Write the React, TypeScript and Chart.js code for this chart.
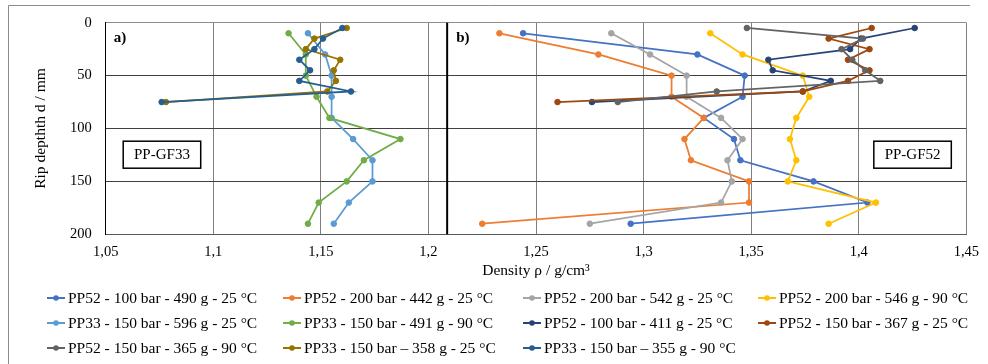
import React, { useEffect, useRef } from 'react';
import { Chart, registerables } from 'chart.js';

Chart.register(...registerables);

// ---- data ----
const depthsA = [10, 30, 50, 70, 90, 110, 130, 150, 170, 190];
const depthsB = [5, 15, 25, 35, 45, 55, 65, 75];

const xTickValues = [1.05, 1.1, 1.15, 1.2, 1.25, 1.3, 1.35, 1.4, 1.45];
const xTickLabels = ['1,05', '1,1', '1,15', '1,2', '1,25', '1,3', '1,35', '1,4', '1,45'];
const yTickValues = [0, 50, 100, 150, 200];
const yTickLabels = ['0', '50', '100', '150', '200'];

const seriesLabels = [
  'PP52 - 100 bar - 490 g - 25 °C',
  'PP52 - 200 bar - 442 g - 25 °C',
  'PP52 - 200 bar - 542 g - 25 °C',
  'PP52 - 200 bar - 546 g - 90 °C',
  'PP33 - 150 bar - 596 g - 25 °C',
  'PP33 - 150 bar - 491 g - 90 °C',
  'PP52 - 100 bar - 411 g - 25 °C',
  'PP52 - 150 bar - 367 g - 25 °C',
  'PP52 - 150 bar - 365 g - 90 °C',
  'PP33 - 150 bar \u2013 358 g - 25 °C',
  'PP33 - 150 bar \u2013 355 g - 90 °C',
];

const seriesColors = [
  '#4472C4', '#ED7D31', '#A5A5A5', '#FFC000', '#5B9BD5', '#70AD47',
  '#264478', '#9E480E', '#636363', '#997300', '#255E91',
];

const pp52_100_490 = [1.244, 1.325, 1.347, 1.346, 1.328, 1.342, 1.345, 1.379, 1.404, 1.294];
const pp52_200_442 = [1.233, 1.279, 1.313, 1.313, 1.328, 1.319, 1.322, 1.349, 1.349, 1.225];
const pp52_200_542 = [1.285, 1.303, 1.320, 1.320, 1.336, 1.346, 1.339, 1.341, 1.336, 1.275];
const pp52_200_546 = [1.331, 1.346, 1.374, 1.377, 1.371, 1.368, 1.371, 1.367, 1.408, 1.386];
const pp33_150_596 = [1.144, 1.152, 1.155, 1.155, 1.155, 1.165, 1.174, 1.174, 1.163, 1.156];
const pp33_150_491 = [1.135, 1.143, 1.143, 1.148, 1.154, 1.187, 1.170, 1.162, 1.149, 1.144];
const pp52_100_411 = [1.426, 1.401, 1.396, 1.358, 1.360, 1.387, 1.374, 1.276];
const pp52_150_367 = [1.406, 1.386, 1.405, 1.395, 1.405, 1.395, 1.374, 1.260];
const pp52_150_365 = [1.348, 1.402, 1.392, 1.397, 1.403, 1.410, 1.334, 1.288];
const pp33_150_358 = [1.162, 1.147, 1.143, 1.159, 1.156, 1.157, 1.153, 1.078];
const pp33_150_355 = [1.160, 1.151, 1.147, 1.140, 1.145, 1.140, 1.164, 1.076];

const seriesValues = [
  pp52_100_490, pp52_200_442, pp52_200_542, pp52_200_546, pp33_150_596, pp33_150_491,
  pp52_100_411, pp52_150_367, pp52_150_365, pp33_150_358, pp33_150_355,
];
const seriesDepths = [
  depthsA, depthsA, depthsA, depthsA, depthsA, depthsA,
  depthsB, depthsB, depthsB, depthsB, depthsB,
];

const panelDivider = 1.2087;
const FONT = "'Liberation Serif', 'Times New Roman', serif";

const labelFor = (values: number[], labels: string[], v: number) => {
  let best = 0;
  values.forEach((t, i) => {
    if (Math.abs(t - v) < Math.abs(values[best] - v)) best = i;
  });
  return labels[best];
};

const decorPlugin = {
  id: 'decor',
  beforeDraw(chart: any) {
    const ctx = chart.ctx;
    ctx.save();
    ctx.fillStyle = '#ffffff';
    ctx.fillRect(0, 0, chart.width, chart.height);
    ctx.strokeStyle = '#8c8c8c';
    ctx.lineWidth = 1;
    ctx.beginPath();
    ctx.moveTo(8.5, chart.height);
    ctx.lineTo(8.5, 5.5);
    ctx.lineTo(970, 5.5);
    ctx.stroke();
    ctx.restore();
  },
  afterDatasetsDraw(chart: any) {
    const ctx = chart.ctx;
    const { top, bottom, left, right } = chart.chartArea;
    const xs = chart.scales.x;
    ctx.save();
    const dx = xs.getPixelForValue(panelDivider);
    ctx.strokeStyle = '#000';
    ctx.lineWidth = 2;
    ctx.beginPath();
    ctx.moveTo(dx, top);
    ctx.lineTo(dx, bottom);
    ctx.stroke();
    ctx.fillStyle = '#000';
    ctx.font = `bold 15px ${FONT}`;
    ctx.textBaseline = 'middle';
    ctx.textAlign = 'left';
    ctx.fillText('a)', left + 8, top + 15);
    ctx.fillText('b)', dx + 9, top + 15);
    ctx.lineWidth = 1.5;
    ctx.font = `15px ${FONT}`;
    ctx.textAlign = 'center';
    const boxes = [
      { t: 'PP-GF33', x: left + 17.5 },
      { t: 'PP-GF52', x: right - 92.5 },
    ];
    for (const b of boxes) {
      ctx.strokeRect(b.x, top + 118.5, 77.5, 27);
      ctx.fillText(b.t, b.x + 38.75, top + 132.5);
    }
    ctx.restore();
  },
  afterDraw(chart: any) {
    const ctx = chart.ctx;
    const cols = [47, 283, 523, 758];
    const rows = [298, 323, 348];
    ctx.save();
    ctx.font = `15.5px ${FONT}`;
    ctx.textBaseline = 'middle';
    ctx.textAlign = 'left';
    chart.data.datasets.forEach((ds: any, i: number) => {
      const x = cols[i % 4];
      const y = rows[Math.floor(i / 4)];
      ctx.strokeStyle = ds.borderColor;
      ctx.fillStyle = ds.borderColor;
      ctx.lineWidth = 2;
      ctx.beginPath();
      ctx.moveTo(x, y);
      ctx.lineTo(x + 18, y);
      ctx.stroke();
      ctx.beginPath();
      ctx.arc(x + 9, y, 2.8, 0, Math.PI * 2);
      ctx.fill();
      ctx.fillStyle = '#000';
      ctx.fillText(ds.label, x + 21, y + 0.5);
    });
    ctx.restore();
  },
};

export default function App() {
  const ref = useRef<HTMLCanvasElement | null>(null);
  useEffect(() => {
    document.body.style.margin = '0';
    const canvas = ref.current;
    if (!canvas) return;
    const datasets = seriesValues.map((vals, i) => ({
      label: seriesLabels[i],
      data: vals.map((v, j) => ({ x: v, y: seriesDepths[i][j] })),
      borderColor: seriesColors[i],
      backgroundColor: seriesColors[i],
      pointBackgroundColor: seriesColors[i],
      pointBorderColor: seriesColors[i],
      pointRadius: 2.8,
      pointBorderWidth: 1,
      borderWidth: 1.75,
      showLine: true,
      tension: 0,
      order: -i,
    }));
    const chart = new Chart(canvas, {
      type: 'scatter',
      data: { datasets },
      plugins: [decorPlugin],
      options: {
        animation: false,
        responsive: false,
        devicePixelRatio: 1,
        layout: { padding: { left: 0, right: 18.3, top: 22.7, bottom: 79.7 } },
        plugins: { legend: { display: false }, tooltip: { enabled: false } },
        scales: {
          x: {
            type: 'linear',
            min: 1.05,
            max: 1.45,
            afterFit: (s: any) => { s.height = 50; },
            ticks: {
              stepSize: 0.05,
              padding: 9,
              color: '#000',
              font: { family: FONT, size: 14.5 },
              maxRotation: 0,
              autoSkip: false,
              callback: (v: any) => labelFor(xTickValues, xTickLabels, Number(v)),
            },
            grid: {
              drawTicks: false,
              color: (c: any) => (c.tick && Math.abs(c.tick.value - 1.05) < 1e-6 ? '#000' : '#7f7f7f'),
              lineWidth: 1,
            },
            border: { color: '#595959', width: 1 },
            title: {
              display: true,
              text: 'Density ρ / g/cm³',
              color: '#000',
              font: { family: FONT, size: 15.5 },
              padding: { top: 0, bottom: 4 },
            },
          },
          y: {
            type: 'linear',
            reverse: true,
            min: 0,
            max: 200,
            afterFit: (s: any) => { s.width = 105.7; },
            ticks: {
              stepSize: 50,
              padding: 14,
              color: '#000',
              font: { family: FONT, size: 14.5 },
              callback: (v: any) => labelFor(yTickValues, yTickLabels, Number(v)),
            },
            grid: {
              drawTicks: false,
              color: (c: any) => (c.tick && c.tick.value === 0 ? '#8c8c8c' : '#404040'),
              lineWidth: 1,
            },
            border: { color: '#000', width: 1 },
            title: {
              display: true,
              text: 'Rip depthth d / mm',
              color: '#000',
              font: { family: FONT, size: 15.5 },
              padding: { top: 32, bottom: 0 },
            },
          },
        },
      },
    } as any);
    return () => chart.destroy();
  }, []);
  return (
    <div style={{ width: 988, height: 364 }}>
      <canvas ref={ref} width={988} height={364} style={{ display: 'block', width: 988, height: 364 }} />
    </div>
  );
}
